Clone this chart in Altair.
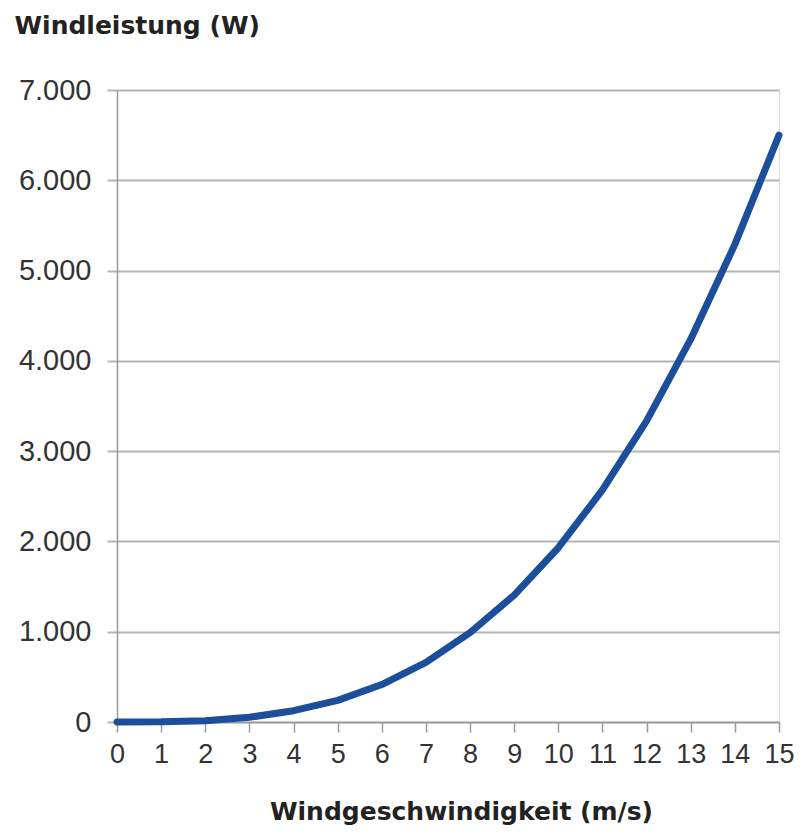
import altair as alt
import pandas as pd

speed = list(range(0, 16))
power = [0, 2, 15, 52, 125, 240, 415, 660, 990, 1405, 1930, 2570, 3335, 4240, 5290, 6500]
y_ticks = [0, 1000, 2000, 3000, 4000, 5000, 6000, 7000]

df = pd.DataFrame({"v": speed, "p": power})

LABEL_FONT = "Liberation Sans"
TITLE_FONT = "DejaVu Sans"

chart = alt.Chart(df).mark_line(
    color="#1C4E9C", strokeWidth=7, strokeCap="round", strokeJoin="round"
).encode(
    x=alt.X(
        "v:Q",
        scale=alt.Scale(domain=[0, 15], nice=False, zero=True),
        axis=alt.Axis(
            values=speed,
            title="Windgeschwindigkeit (m/s)",
            grid=False,
            tickSize=10,
            tickColor="#999999",
            tickWidth=1.5,
            domainColor="#999999",
            domainWidth=1.5,
            labelFont=LABEL_FONT,
            labelFontSize=27,
            labelColor="#333333",
            labelPadding=9,
            labelFlush=False,
            labelOverlap=False,
            titleFont=TITLE_FONT,
            titleFontSize=25,
            titleFontWeight="bold",
            titleColor="#222222",
            titleX=344,
            titleY=97,
            titleAlign="center",
            titleBaseline="alphabetic",
        ),
    ),
    y=alt.Y(
        "p:Q",
        scale=alt.Scale(domain=[0, 7000], nice=False),
        axis=alt.Axis(
            values=y_ticks,
            title="Windleistung (W)",
            labelExpr="replace(format(datum.value, ','), ',', '.')",
            grid=True,
            gridColor="#b5b5b5",
            gridWidth=2,
            tickSize=10,
            tickColor="#b5b5b5",
            tickWidth=2,
            domainColor="#999999",
            domainWidth=1.5,
            labelFont=LABEL_FONT,
            labelFontSize=29,
            labelColor="#333333",
            labelPadding=16,
            labelFlush=False,
            titleFont=TITLE_FONT,
            titleFontSize=25,
            titleFontWeight="bold",
            titleColor="#222222",
            titleAngle=0,
            titleAlign="left",
            titleBaseline="alphabetic",
            titleX=-103,
            titleY=-57,
        ),
    ),
).properties(
    width=662,
    height=632,
    autosize=alt.AutoSizeParams(type="none"),
    padding={"left": 109, "top": 82, "right": 16, "bottom": 104},
).configure_view(strokeWidth=0).configure(background="white")

chart.save("out.html", embed_options={"renderer": "svg", "actions": False})
